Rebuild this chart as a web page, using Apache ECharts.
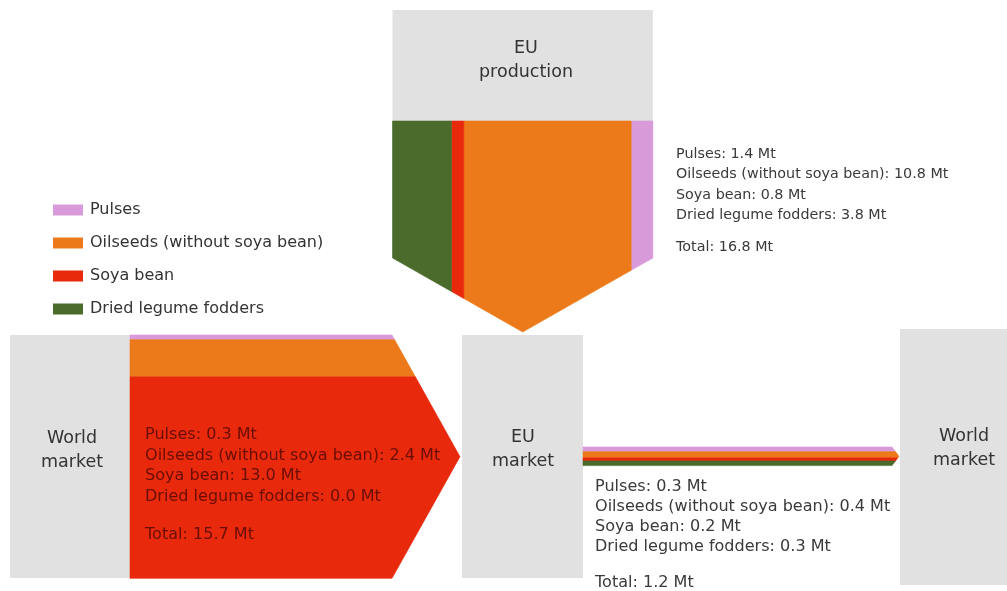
<!DOCTYPE html>
<html>
<head>
<meta charset="utf-8">
<script src="https://cdn.jsdelivr.net/npm/echarts@6/dist/echarts.min.js"></script>
<style>
  html, body { margin: 0; padding: 0; background: #ffffff; }
  #chart { width: 1007px; height: 591px; }
</style>
</head>
<body>
<div id="chart"></div>
<script>
// Legume and oilseed flows of the EU (million tonnes)
const products = ['Pulses', 'Oilseeds (without soya bean)', 'Soya bean', 'Dried legume fodders'];
const euProduction = [1.4, 10.8, 0.8, 3.8];
const worldImports = [0.3, 2.4, 13.0, 0.0];
const worldExports = [0.3, 0.4, 0.2, 0.3];
const nodeNames = ['EU\nproduction', 'World\nmarket', 'EU\nmarket', 'World\nmarket'];
const productColors = ['#d99ad9', '#ec7a1a', '#e8290c', '#4a6b2b'];

const FONT = '"DejaVu Sans", Verdana, sans-serif';
const MT = 15.5; // axis units per million tonnes (band thickness)

const sum = arr => arr.reduce((s, v) => s + v, 0);

// Flow arrows: start point, straight length, arrow-head depth, stacking order of bands
const flowLayout = [
  { values: euProduction, dir: 'down',  order: [3, 2, 1, 0], x: 392.5, y: 121, len: 137, tip: 74 },
  { values: worldImports, dir: 'right', order: [0, 1, 2, 3], x: 130,   y: 335, len: 262, tip: 68 },
  { values: worldExports, dir: 'right', order: [0, 1, 2, 3], x: 583,   y: 447, len: 309, tip: 7 }
];

// Grey boxes for the nodes
const nodeBoxes = [
  { x: 392.5, y: 10,  w: sum(euProduction) * MT, h: 111, tx: 526, ty: 60 },
  { x: 10,    y: 335, w: 120, h: 243, tx: 72,  ty: 450 },
  { x: 462,   y: 335, w: 121, h: 243, tx: 523, ty: 449 },
  { x: 900,   y: 329, w: 120, h: 256, tx: 964, ty: 448 }
];

// Text blocks listing the values of each flow
const labelLayout = [
  { x: 676, y: 154, step: 20.6, totalY: 247, size: 13.5, sx: 1.06, color: '#3a3a3a' },
  { x: 145, y: 435, step: 20.7, totalY: 535, size: 15,   sx: 1.07, color: '#6a0e00' },
  { x: 595, y: 487, step: 20,   totalY: 583, size: 15,   sx: 1.07, color: '#3a3a3a' }
];

function bandRenderer(productIndex) {
  return function (params, api) {
    const f = flowLayout[params.dataIndex];
    const v = api.value(1);
    if (!(v > 0)) return;
    const W = sum(f.values) * MT;
    const half = W / 2;
    let a = 0;
    for (const k of f.order) {
      if (k === productIndex) break;
      a += f.values[k] * MT;
    }
    const b = a + v * MT;
    const end = t => f.len + f.tip * (1 - Math.abs(t - half) / half);
    const local = [[0, a], [end(a), a]];
    if (a < half && b > half) local.push([f.len + f.tip, half]);
    local.push([end(b), b], [0, b]);
    const pts = local.map(([along, across]) =>
      api.coord(f.dir === 'right' ? [f.x + along, f.y + across] : [f.x + across, f.y + along]));
    const color = api.visual('color');
    return {
      type: 'polygon',
      shape: { points: pts },
      style: { fill: color, stroke: color, lineWidth: 0.6 }
    };
  };
}

const bandSeries = products.map((name, s) => ({
  name: name,
  type: 'custom',
  coordinateSystem: 'cartesian2d',
  clip: false,
  silent: true,
  itemStyle: { color: productColors[s] },
  encode: { x: 0, y: 1 },
  renderItem: bandRenderer(s),
  data: flowLayout.map((f, i) => [i, f.values[s]]),
  z: 3
}));

const nodeSeries = {
  name: 'nodes',
  type: 'custom',
  coordinateSystem: 'cartesian2d',
  clip: false,
  silent: true,
  z: 2,
  renderItem: function (params, api) {
    const box = nodeBoxes[params.dataIndex];
    const p0 = api.coord([box.x, box.y]);
    const p1 = api.coord([box.x + box.w, box.y + box.h]);
    const c = api.coord([box.tx, box.ty]);
    return {
      type: 'group',
      children: [
        { type: 'rect', shape: { x: p0[0], y: p0[1], width: p1[0] - p0[0], height: p1[1] - p0[1] },
          style: { fill: '#e1e1e1' } },
        { type: 'text', x: c[0], y: c[1],
          style: { text: nodeNames[params.dataIndex], fill: '#333333', font: '17.5px ' + FONT,
                   align: 'center', verticalAlign: 'middle', lineHeight: 24 } }
      ]
    };
  },
  data: nodeNames.map((n, i) => [i, 0])
};

const labelSeries = {
  name: 'labels',
  type: 'custom',
  coordinateSystem: 'cartesian2d',
  clip: false,
  silent: true,
  z: 5,
  renderItem: function (params, api) {
    const f = flowLayout[params.dataIndex];
    const L = labelLayout[params.dataIndex];
    const lines = products.map((p, i) => ({ text: p + ': ' + f.values[i].toFixed(1) + ' Mt', y: L.y + i * L.step }));
    lines.push({ text: 'Total: ' + sum(f.values).toFixed(1) + ' Mt', y: L.totalY });
    return {
      type: 'group',
      children: lines.map(line => {
        const c = api.coord([L.x, line.y]);
        return { type: 'text', x: c[0], y: c[1], scaleX: L.sx,
                 style: { text: line.text, fill: L.color, font: L.size + 'px ' + FONT,
                          align: 'left', verticalAlign: 'middle' } };
      })
    };
  },
  data: flowLayout.map((f, i) => [i, 0])
};

const chart = echarts.init(document.getElementById('chart'), null, { renderer: 'canvas' });
chart.setOption({
  animation: false,
  backgroundColor: '#ffffff',
  grid: { left: 0, right: 0, top: 0, bottom: 0 },
  xAxis: { type: 'value', min: 0, max: 1007, show: false },
  yAxis: { type: 'value', min: 0, max: 591, inverse: true, show: false },
  legend: {
    data: products,
    orient: 'vertical',
    left: 48,
    top: 197,
    icon: 'rect',
    itemWidth: 30,
    itemHeight: 11,
    itemGap: 17,
    selectedMode: false,
    textStyle: { fontSize: 16, color: '#333333', fontFamily: FONT, lineHeight: 14, padding: [0, 0, 0, 2] }
  },
  series: [nodeSeries].concat(bandSeries, [labelSeries])
});
</script>
</body>
</html>
